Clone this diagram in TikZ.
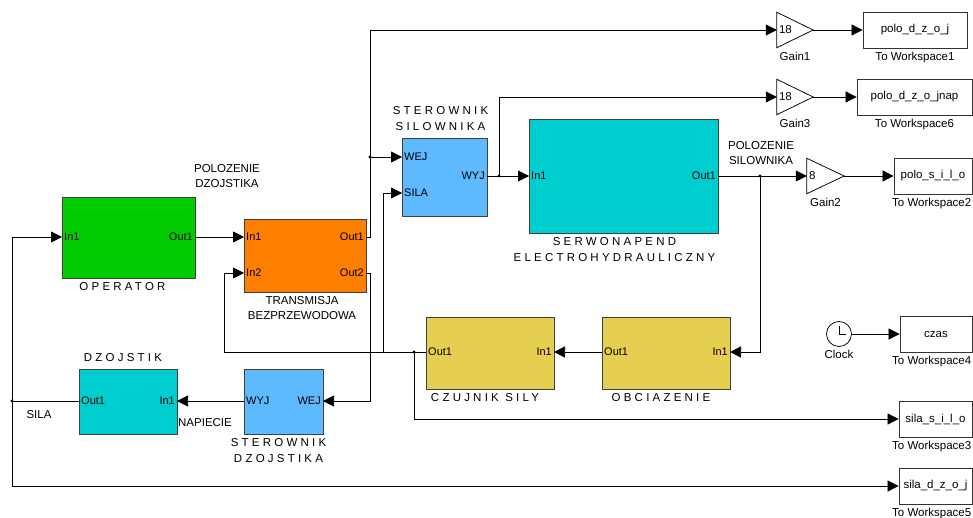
\documentclass[tikz,border=0pt]{standalone}
\usepackage{fontspec}
\setmainfont{Liberation Sans}
\newfontfamily\spaced[LetterSpace=28]{Liberation Sans}
\usepackage{xcolor}
\usetikzlibrary{arrows.meta, positioning, calc}

\definecolor{opgreen}{RGB}{0,204,0}
\definecolor{tromg}{RGB}{255,128,0}
\definecolor{stblue}{RGB}{95,185,255}
\definecolor{sercyan}{RGB}{0,206,206}
\definecolor{czyel}{RGB}{230,207,80}

\begin{document}
\begin{tikzpicture}[x=1pt,y=-1pt,
    font=\fontsize{11.5}{15}\selectfont,
    >={Triangle[length=11pt,width=11pt]},
    blk/.style={draw=black!75, line width=0.9pt, inner sep=0pt},
    lport/.style={anchor=west, inner sep=2pt, font=\fontsize{11}{13}\selectfont},
    rport/.style={anchor=east, inner sep=2pt, font=\fontsize{11}{13}\selectfont},
    sig/.style={line width=0.75pt, ->},
    wire/.style={line width=0.75pt},
    ttl/.style={font=\fontsize{11.5}{16}\selectfont\spaced, align=center, inner sep=1pt},
    ws/.style={draw=black!80, line width=0.8pt, minimum height=36pt, inner sep=0pt},
    gainbox/.style={minimum width=36pt, minimum height=35pt, inner sep=0pt},
]

    \useasboundingbox (0,0) rectangle (973,518);

    %--------------------------------
    % Bloki glowne
    %--------------------------------
    \node[blk, fill=opgreen, minimum width=133pt, minimum height=81pt] (oper) at (128.5,237.5) {};
    \node[blk, fill=tromg, minimum width=122pt, minimum height=73pt] (trans) at (305,255.5) {};
    \node[blk, fill=stblue, minimum width=85pt, minimum height=78pt] (stsil) at (444.5,177) {};
    \node[blk, fill=sercyan, minimum width=189pt, minimum height=114pt] (serwo) at (623.5,176) {};
    \node[blk, fill=czyel, minimum width=128pt, minimum height=72pt] (czuj) at (490,353) {};
    \node[blk, fill=czyel, minimum width=128pt, minimum height=72pt] (obc) at (666,353) {};
    \node[blk, fill=sercyan, minimum width=98pt, minimum height=65pt] (dzoj) at (128,401.5) {};
    \node[blk, fill=stblue, minimum width=79pt, minimum height=65pt] (stdz) at (283.5,401.5) {};

    % nazwy blokow
    \node[ttl, below=3pt of oper, xshift=-6pt] (operT) {OPERATOR};
    \node[align=center, inner sep=1pt, below=3pt of trans, xshift=-3pt] (transT) {TRANSMISJA\\BEZPRZEWODOWA};
    \node[ttl, above=6pt of stsil, xshift=-4pt] (stsilT) {STEROWNIK\\SILOWNIKA};
    \node[ttl, below=3pt of serwo, xshift=-9pt] (serwoT) {SERWONAPEND\\ELECTROHYDRAULICZNY};
    \node[ttl, below=3pt of czuj, xshift=-5pt] (czujT) {CZUJNIK SILY};
    \node[ttl, below=3pt of obc, xshift=-5pt] (obcT) {OBCIAZENIE};
    \node[ttl, above=6pt of dzoj, xshift=-5pt] (dzojT) {DZOJSTIK};
    \node[ttl, below=3pt of stdz, xshift=-5pt] (stdzT) {STEROWNIK\\DZOJSTIKA};

    %--------------------------------
    % Porty
    %--------------------------------
    \node[lport] (opIn) at (62,237) {In1};
    \node[rport] (opOut) at (195,237) {Out1};
    \node[lport] (trIn1) at (244,237) {In1};
    \node[lport] (trIn2) at (244,273) {In2};
    \node[rport] (trOut1) at (366,237) {Out1};
    \node[rport] (trOut2) at (366,273) {Out2};
    \node[lport] (ssWej) at (402,157) {WEJ};
    \node[lport] (ssSila) at (402,193) {SILA};
    \node[rport] (ssWyj) at (487,176) {WYJ};
    \node[lport] (swIn) at (529,176) {In1};
    \node[rport] (swOut) at (718,176) {Out1};
    \node[lport] (czOut) at (426,352) {Out1};
    \node[rport] (czIn) at (554,352) {In1};
    \node[lport] (obOut) at (602,352) {Out1};
    \node[rport] (obIn) at (730,352) {In1};
    \node[lport] (dzOut) at (79,401) {Out1};
    \node[rport] (dzIn) at (177,401) {In1};
    \node[lport] (sdWyj) at (244,401) {WYJ};
    \node[rport] (sdWej) at (323,401) {WEJ};

    %--------------------------------
    % Wzmocnienia i To Workspace
    %--------------------------------
    \node[gainbox] (g1) at (795,30) {};
    \node[gainbox] (g3) at (795,97) {};
    \node[gainbox, minimum width=37pt] (g2) at (825.5,176) {};
    \foreach \g in {g1,g2,g3}{
        \draw[line width=0.75pt] (\g.north west) -- (\g.east) -- (\g.south west) -- cycle;
    }
    \node[anchor=west, inner sep=2pt] (g1v) at (g1.west) {18};
    \node[anchor=west, inner sep=2pt] (g3v) at (g3.west) {18};
    \node[anchor=west, inner sep=2pt] (g2v) at (g2.west) {8};
    \node[below=1pt of g1] (g1l) {Gain1};
    \node[below=1pt of g3] (g3l) {Gain3};
    \node[below=1pt of g2] (g2l) {Gain2};

    \node[ws, minimum width=104pt] (ws1) at (915,30) {polo\_d\_z\_o\_j};
    \node[ws, minimum width=115pt] (ws6) at (914.5,97) {polo\_d\_z\_o\_jnap};
    \node[ws, minimum width=78pt] (ws2) at (933,176) {polo\_s\_i\_l\_o};
    \node[ws, minimum width=72pt] (ws4) at (936,334) {czas};
    \node[ws, minimum width=73pt] (ws3) at (935.5,419) {sila\_s\_i\_l\_o};
    \node[ws, minimum width=73pt] (ws5) at (935.5,486) {sila\_d\_z\_o\_j};
    \foreach \w/\n in {ws1/1,ws6/6}{
        \node[below=0pt of \w] (\w l) {To Workspace\n};
    }
    % przy prawej krawedzi
    \foreach \w/\n in {ws2/2,ws4/4,ws3/3,ws5/5}{
        \node[anchor=north east, inner xsep=1pt] (\w l) at (\w.south east) {To Workspace\n};
    }

    % zegar
    \node[circle, draw, line width=0.75pt, minimum size=25pt, inner sep=0pt] (clk) at (839,334) {};
    \draw[line width=0.75pt] (clk.center) -- ++(0,-8);
    \draw[line width=0.75pt] (clk.center) -- ++(7,0);
    \node[below=0pt of clk] (clkl) {Clock};

    %--------------------------------
    % Opisy sygnalow
    %--------------------------------
    \node[align=center] (polD) at (227,176.5) {POLOZENIE\\DZOJSTIKA};
    \node[align=center] (polS) at (761,153) {POLOZENIE\\SILOWNIKA};
    \node (silaL) at (39,415) {SILA};
    \node (napL) at (205,423) {NAPIECIE};

    %--------------------------------
    % Polaczenia
    %--------------------------------
    \coordinate (jSila) at (12,401);
    \coordinate (jPolD) at (370,157);
    \coordinate (jWyj) at (499,176);
    \coordinate (jPolS) at (760,176);
    \coordinate (jSilS) at (414,352);

    % sila na dzojstiku
    \draw[wire] (dzOut.west) -- (jSila);
    \draw[sig] (jSila) |- (opIn.west);
    \draw[sig] (jSila) |- (ws5.west);

    % tor polozenia dzojstika
    \draw[sig] (opOut.east) -- (trIn1.west);
    \draw[sig] (trOut1.east) -- ++(4,0) |- (g1.west);
    \draw[sig] (jPolD) -- (ssWej.west);
    \draw[sig] (trOut2.east) -- ++(4,0) |- (sdWej.east);
    \draw[sig] (sdWyj.west) -- (dzIn.east);

    % tor silownika
    \draw[sig] (ssWyj.east) -- (swIn.west);
    \draw[sig] (jWyj) |- (g3.west);
    \draw[sig] (swOut.east) -- (g2.west);
    \draw[sig] (jPolS) |- (obIn.east);
    \draw[sig] (obOut.west) -- (czIn.east);

    % sila z czujnika
    \draw[wire] (czOut.west) -- (jSilS);
    \draw[sig] (jSilS) -- ++(-31,0) |- (ssSila.west);
    \draw[sig] (jSilS) -- ++(-190,0) |- (trIn2.west);
    \draw[sig] (jSilS) |- (ws3.west);

    % do workspace
    \draw[sig] (g1.east) -- (ws1.west);
    \draw[sig] (g3.east) -- (ws6.west);
    \draw[sig] (g2.east) -- (ws2.west);
    \draw[sig] (clk.east) -- (ws4.west);

    \foreach \j in {jSila,jPolD,jWyj,jPolS,jSilS}{
        \fill (\j) circle (1.6pt);
    }

\end{tikzpicture}
\end{document}
